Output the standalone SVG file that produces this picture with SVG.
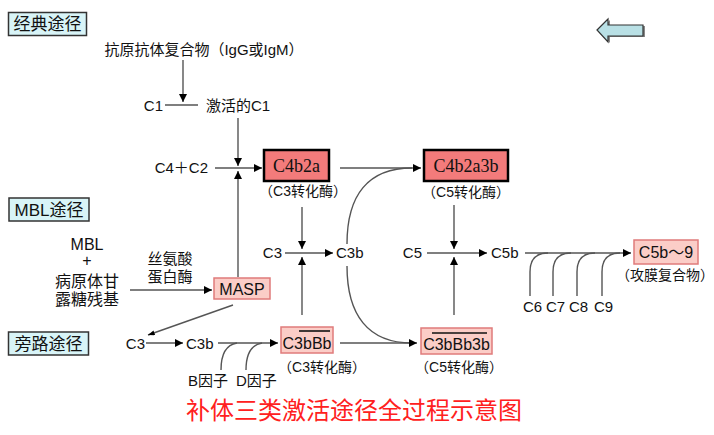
<svg xmlns="http://www.w3.org/2000/svg" width="714" height="435" viewBox="0 0 714 435">
<style>
text{font-family:"Liberation Sans","Noto Sans CJK SC",sans-serif;fill:#111}
.t{font-size:15px}
.u{font-size:16px}
.s{font-size:14px}
.m{text-anchor:middle}
.e{text-anchor:end}
.lab rect{fill:#d8f4f7;stroke:#333;stroke-width:1.5}
.lab text{font-size:17px}
.dark rect{fill:#f37b7b;stroke:#000;stroke-width:2.5}
text.serif{font-family:"Liberation Serif","DejaVu Serif",serif;font-size:18px}
.pink rect{fill:#fbcdc7;stroke:#e07b7b;stroke-width:1.5}
.pink text{font-size:16px}
.ln{fill:none;stroke:#555;stroke-width:1.4}
.ov{stroke:#111;stroke-width:1.6}
</style>
<defs>
<marker id="a" viewBox="0 0 8 8" refX="8" refY="4" markerWidth="8" markerHeight="8" orient="auto" markerUnits="userSpaceOnUse"><path d="M0,0 L8,4 L0,8 z" fill="#000"/></marker>
<marker id="b" viewBox="0 0 8 6" refX="8" refY="3" markerWidth="7" markerHeight="5" orient="auto" markerUnits="userSpaceOnUse"><path d="M0,0 L8,3 L0,6 z" fill="#000"/></marker>
</defs>
<rect width="714" height="435" fill="#fff"/>

<g id="label-classic" class="lab"><rect x="8.5" y="12.5" width="78" height="23"/><text x="47.5" y="30" class="m">经典途径</text></g>
<g id="label-mbl" class="lab"><rect x="9" y="198" width="80" height="23"/><text x="49" y="216" class="m">MBL途径</text></g>
<g id="label-alt" class="lab"><rect x="8.5" y="332" width="80" height="23"/><text x="48.5" y="350" class="m">旁路途径</text></g>

<g id="arrow-left"><polygon points="599,31 610,20 610,26 645,26 645,37 610,37 610,43" fill="#888"/><polygon points="597,30 608,19 608,25 643,25 643,36 608,36 608,42" fill="#b9e0e5" stroke="#333" stroke-width="1.2"/></g>

<g id="connectors">
<path class="ln" d="M183,60 V102" marker-end="url(#a)"/>
<path class="ln" d="M165,105 H198"/>
<path class="ln" d="M238,118 V166" marker-end="url(#a)"/>
<path class="ln" d="M215,168 H262" marker-end="url(#a)"/>
<path class="ln" d="M238,277 V171" marker-end="url(#a)"/>
<path class="ln" d="M340,168 H421" marker-end="url(#a)"/>
<path class="ln" d="M347,244 C347,195 368,168 412,168"/>
<path class="ln" d="M347,266 C347,315 368,343 412,343"/>
<path class="ln" d="M340,343 H417" marker-end="url(#a)"/>
<path class="ln" d="M302,207 V249" marker-end="url(#a)"/>
<path class="ln" d="M285,253 H333" marker-end="url(#a)"/>
<path class="ln" d="M302,315 V257" marker-end="url(#a)"/>
<path class="ln" d="M130,290 H212" marker-end="url(#a)"/>
<path class="ln" d="M233,305 L148,335" marker-end="url(#b)"/>
<path class="ln" d="M146,343 H183" marker-end="url(#a)"/>
<path class="ln" d="M218,343 H278" marker-end="url(#a)"/>
<path class="ln" d="M221,370 C221,355 225,345 237,343"/>
<path class="ln" d="M246,370 C246,355 250,345 262,343"/>
<path class="ln" d="M454,205 V249" marker-end="url(#a)"/>
<path class="ln" d="M427,253 H487" marker-end="url(#a)"/>
<path class="ln" d="M454,315 V257" marker-end="url(#a)"/>
<path class="ln" d="M525,253 H631" marker-end="url(#a)"/>
<path class="ln" d="M530,296 V272 C530,260 536,253 548,253"/>
<path class="ln" d="M553,296 V272 C553,260 559,253 571,253"/>
<path class="ln" d="M577,296 V272 C577,260 583,253 595,253"/>
<path class="ln" d="M602,296 V272 C602,260 608,253 620,253"/>
</g>

<g id="n-complex"><text x="204" y="55" class="t m">抗原抗体复合物（IgG或IgM）</text></g>
<g id="n-c1"><text x="163" y="111" class="t e">C1</text></g>
<g id="n-c1a"><text x="206" y="111" class="t">激活的C1</text></g>
<g id="n-c4c2"><text x="208" y="173" class="t e">C4＋C2</text></g>

<g id="n-c4b2a" class="dark"><rect x="264" y="150" width="65" height="31"/><text x="296.5" y="172" class="serif m">C4b2a</text></g>
<text x="303" y="196" class="s m">（C3转化酶）</text>
<g id="n-c4b2a3b" class="dark"><rect x="424" y="150" width="84" height="31"/><text x="466" y="172" class="serif m">C4b2a3b</text></g>
<text x="466" y="197" class="s m">（C5转化酶）</text>

<g id="n-c3"><text x="282" y="258" class="t e">C3</text></g>
<g id="n-c3b"><text x="336" y="258" class="t">C3b</text></g>
<g id="n-c5"><text x="422" y="258" class="t e">C5</text></g>
<g id="n-c5b"><text x="491" y="258" class="t">C5b</text></g>

<g id="n-c5b9" class="pink"><rect x="634" y="240" width="64" height="24"/><text x="666" y="258" class="m">C5b～9</text></g>
<text x="665" y="280" class="s m">（攻膜复合物）</text>

<g id="n-c6"><text x="523" y="312" class="t">C6</text></g>
<g id="n-c7"><text x="546" y="312" class="t">C7</text></g>
<g id="n-c8"><text x="569" y="312" class="t">C8</text></g>
<g id="n-c9"><text x="594" y="312" class="t">C9</text></g>

<g id="n-mbl"><text x="87" y="250" class="u m">MBL</text><text x="87" y="266" class="u m">+</text><text x="87" y="287" class="u m">病原体甘</text><text x="87" y="305" class="u m">露糖残基</text></g>
<g id="n-serine"><text x="170" y="264" class="t m">丝氨酸</text><text x="170" y="282" class="t m">蛋白酶</text></g>
<g id="n-masp" class="pink"><rect x="214" y="278" width="56" height="21"/><text x="242" y="295" class="m">MASP</text></g>

<g id="n-alt-c3"><text x="145" y="349" class="t e">C3</text></g>
<g id="n-alt-c3b"><text x="186" y="349" class="t">C3b</text></g>
<g id="n-c3bbb" class="pink"><rect x="281" y="327" width="52" height="26"/><text x="307" y="349" class="m">C3bBb</text><line class="ov" x1="299" y1="331" x2="330" y2="331"/></g>
<text x="322" y="372" class="s m">（C3转化酶）</text>
<g id="n-c3bbb3b" class="pink"><rect x="421" y="328" width="71" height="26"/><text x="456.5" y="350" class="m">C3bBb3b</text><line class="ov" x1="432" y1="333" x2="487" y2="333"/></g>
<text x="459" y="372" class="s m">（C5转化酶）</text>

<g id="n-bf"><text x="188" y="386" class="t">B因子</text></g>
<g id="n-df"><text x="236" y="386" class="t">D因子</text></g>

<text x="354" y="419" class="m" style="font-size:24px;fill:#ff2020;font-family:'Noto Sans CJK SC',sans-serif">补体三类激活途径全过程示意图</text>
</svg>
